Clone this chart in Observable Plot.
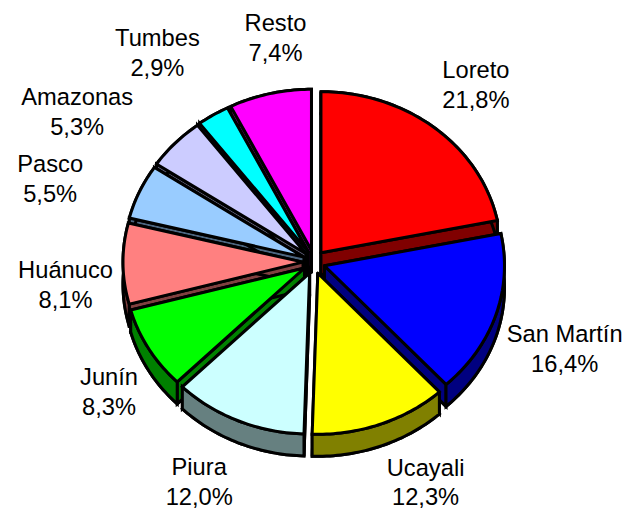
<!DOCTYPE html>
<html>
<head>
<meta charset="utf-8">
<style>html,body{margin:0;padding:0;background:#fff}svg{display:block}</style>
<script src="https://cdn.jsdelivr.net/npm/d3@7"></script>
<script src="https://cdn.jsdelivr.net/npm/@observablehq/plot@0.6"></script>
</head>
<body>
<div id="chart"></div>
<script>
const regions = ["Loreto","San Martín","Ucayali","Piura","Junín","Huánuco","Pasco","Amazonas","Tumbes","Resto"];
const shares = [21.8,16.4,12.3,12.0,8.3,8.1,5.5,5.3,2.9,7.4];
const shareLabels = ["21,8%","16,4%","12,3%","12,0%","8,3%","8,1%","5,5%","5,3%","2,9%","7,4%"];
const topColors = ["#ff0000","#0000ff","#ffff00","#ccffff","#00ff00","#ff8080","#99ccff","#ccccff","#00ffff","#ff00ff"];
const sideColors = ["#800000","#000080","#808000","#668080","#008000","#804040","#4d6680","#666680","#008080","#800080"];

// layout (pixels)
const W = 628, H = 510, cx = 313.5, cy = 261.5, rx = 180, ry = 161;
const depth = 22 / ry, explodeX = 11 / rx, explodeY = 12 / ry;
const labelDx = [48,79.5,49,-43.3,-49.2,-68.5,-99.3,-106,-61.6,3];
const labelDy = [-54,35.5,68,71,48,20,-19.5,-41,-74,-69];

let acc = 0;
const slices = regions.map((name,i)=>{
  const a0 = acc/100*2*Math.PI; acc += shares[i];
  const a1 = acc/100*2*Math.PI, m = (a0+a1)/2;
  return {i,name,a0,a1,m,ax:Math.sin(m)*explodeX,ay:Math.cos(m)*explodeY};
});
const order = [...slices].sort((p,q)=>Math.cos(q.m)-Math.cos(p.m));
const rows = [];
function poly(id,fill,pts){ [...pts,pts[0]].forEach(([x,y])=>rows.push({id,fill,x,y})); }
for (const s of order){
  const arc = [], n = Math.max(4,Math.ceil((s.a1-s.a0)/0.02));
  for (let k=0;k<=n;k++){
    const a = s.a0+(s.a1-s.a0)*k/n;
    arc.push([s.ax+Math.sin(a),s.ay+Math.cos(a)]);
  }
  const apex=[s.ax,s.ay], d=([x,y])=>[x,y-depth];
  const side=sideColors[s.i];
  poly(s.i+"-base",side,[apex,...arc].map(d));
  poly(s.i+"-wall0",side,[apex,arc[0],d(arc[0]),d(apex)]);
  poly(s.i+"-wall1",side,[apex,arc[n],d(arc[n]),d(apex)]);
  poly(s.i+"-outer",side,[...arc,...arc.map(d).reverse()]);
  poly(s.i+"-top",topColors[s.i],[apex,...arc]);
}
const labels = slices.map(s=>({
  text:s.name+"\n"+shareLabels[s.i],
  x:Math.sin(s.m)+labelDx[s.i]/rx,
  y:Math.cos(s.m)-labelDy[s.i]/ry
}));

const chart = Plot.plot({
  width:W,height:H,margin:0,
  x:{domain:[-cx/rx,(W-cx)/rx],range:[0,W],axis:null},
  y:{domain:[cy/ry,(cy-H)/ry],range:[0,H],axis:null},
  color:{type:"identity"},
  style:{background:"#fff",overflow:"visible"},
  marks:[
    Plot.line(rows,{x:"x",y:"y",z:"id",fill:"fill",stroke:"#000",strokeWidth:3,strokeLinejoin:"miter",strokeMiterlimit:3}),
    Plot.text(labels,{x:"x",y:"y",text:"text",fontSize:23.7,lineHeight:1.26,fontFamily:"'Liberation Sans',Arial,sans-serif",fill:"#000",textAnchor:"middle"})
  ]
});
document.getElementById("chart").append(chart);
</script>
</body>
</html>
